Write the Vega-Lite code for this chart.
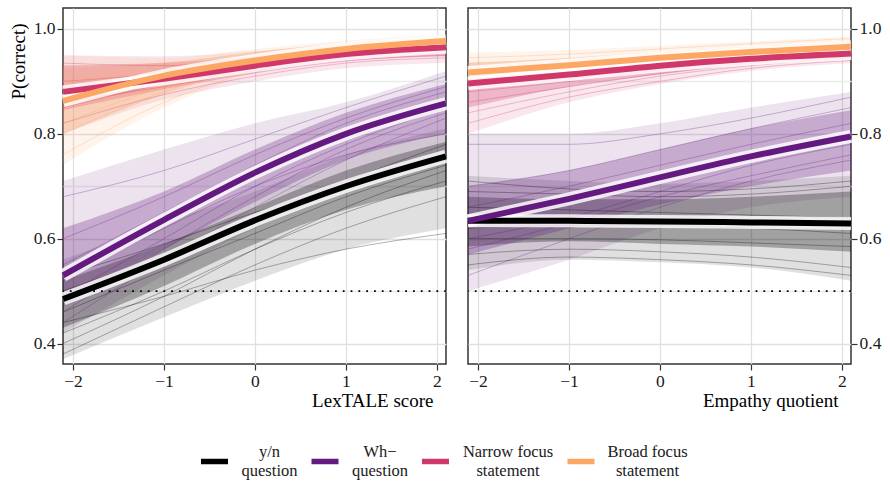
{
"$schema": "https://vega.github.io/schema/vega-lite/v6.json",
"background": "white",
"padding": {"left": 8, "top": 7, "right": 0, "bottom": 80},
"datasets": {
"bands": [
{"p":"L","c":"yn","x":-2.11,"m":0.485,"lo":0.37,"hi":0.56,"lo2":0.43,"hi2":0.52},
{"p":"L","c":"yn","x":-1,"m":0.560,"lo":0.45,"hi":0.63,"lo2":0.51,"hi2":0.59},
{"p":"L","c":"yn","x":0,"m":0.635,"lo":0.52,"hi":0.69,"lo2":0.59,"hi2":0.66},
{"p":"L","c":"yn","x":1,"m":0.700,"lo":0.58,"hi":0.76,"lo2":0.655,"hi2":0.73},
{"p":"L","c":"yn","x":2.1,"m":0.757,"lo":0.62,"hi":0.81,"lo2":0.70,"hi2":0.785},
{"p":"L","c":"wh","x":-2.11,"m":0.530,"lo":0.42,"hi":0.71,"lo2":0.47,"hi2":0.62},
{"p":"L","c":"wh","x":-1,"m":0.636,"lo":0.53,"hi":0.77,"lo2":0.58,"hi2":0.69},
{"p":"L","c":"wh","x":0,"m":0.726,"lo":0.62,"hi":0.82,"lo2":0.67,"hi2":0.77},
{"p":"L","c":"wh","x":1,"m":0.800,"lo":0.69,"hi":0.86,"lo2":0.75,"hi2":0.84},
{"p":"L","c":"wh","x":2.1,"m":0.858,"lo":0.74,"hi":0.92,"lo2":0.80,"hi2":0.895},
{"p":"L","c":"nf","x":-2.11,"m":0.880,"lo":0.80,"hi":0.95,"lo2":0.845,"hi2":0.93},
{"p":"L","c":"nf","x":-1,"m":0.905,"lo":0.865,"hi":0.948,"lo2":0.885,"hi2":0.935},
{"p":"L","c":"nf","x":0,"m":0.930,"lo":0.90,"hi":0.958,"lo2":0.915,"hi2":0.948},
{"p":"L","c":"nf","x":1,"m":0.952,"lo":0.925,"hi":0.972,"lo2":0.938,"hi2":0.964},
{"p":"L","c":"nf","x":2.1,"m":0.965,"lo":0.935,"hi":0.98,"lo2":0.948,"hi2":0.975},
{"p":"L","c":"bf","x":-2.11,"m":0.863,"lo":0.74,"hi":0.95,"lo2":0.80,"hi2":0.925},
{"p":"L","c":"bf","x":-1,"m":0.911,"lo":0.85,"hi":0.945,"lo2":0.875,"hi2":0.935},
{"p":"L","c":"bf","x":0,"m":0.940,"lo":0.915,"hi":0.962,"lo2":0.928,"hi2":0.955},
{"p":"L","c":"bf","x":1,"m":0.962,"lo":0.945,"hi":0.978,"lo2":0.953,"hi2":0.972},
{"p":"L","c":"bf","x":2.1,"m":0.977,"lo":0.96,"hi":0.99,"lo2":0.968,"hi2":0.985},
{"p":"R","c":"yn","x":-2.11,"m":0.634,"lo":0.54,"hi":0.72,"lo2":0.585,"hi2":0.68},
{"p":"R","c":"yn","x":-1,"m":0.634,"lo":0.56,"hi":0.71,"lo2":0.595,"hi2":0.675},
{"p":"R","c":"yn","x":0,"m":0.633,"lo":0.555,"hi":0.705,"lo2":0.59,"hi2":0.675},
{"p":"R","c":"yn","x":1,"m":0.631,"lo":0.545,"hi":0.71,"lo2":0.585,"hi2":0.68},
{"p":"R","c":"yn","x":2.1,"m":0.629,"lo":0.52,"hi":0.72,"lo2":0.575,"hi2":0.69},
{"p":"R","c":"wh","x":-2.11,"m":0.634,"lo":0.50,"hi":0.80,"lo2":0.57,"hi2":0.70},
{"p":"R","c":"wh","x":-1,"m":0.676,"lo":0.56,"hi":0.80,"lo2":0.62,"hi2":0.73},
{"p":"R","c":"wh","x":0,"m":0.717,"lo":0.62,"hi":0.82,"lo2":0.665,"hi2":0.77},
{"p":"R","c":"wh","x":1,"m":0.757,"lo":0.66,"hi":0.85,"lo2":0.70,"hi2":0.81},
{"p":"R","c":"wh","x":2.1,"m":0.795,"lo":0.68,"hi":0.88,"lo2":0.73,"hi2":0.845},
{"p":"R","c":"nf","x":-2.11,"m":0.896,"lo":0.80,"hi":0.935,"lo2":0.85,"hi2":0.92},
{"p":"R","c":"nf","x":-1,"m":0.913,"lo":0.86,"hi":0.94,"lo2":0.89,"hi2":0.928},
{"p":"R","c":"nf","x":0,"m":0.930,"lo":0.895,"hi":0.952,"lo2":0.913,"hi2":0.943},
{"p":"R","c":"nf","x":1,"m":0.943,"lo":0.92,"hi":0.962,"lo2":0.932,"hi2":0.955},
{"p":"R","c":"nf","x":2.1,"m":0.953,"lo":0.935,"hi":0.972,"lo2":0.942,"hi2":0.965},
{"p":"R","c":"bf","x":-2.11,"m":0.917,"lo":0.885,"hi":0.955,"lo2":0.90,"hi2":0.935},
{"p":"R","c":"bf","x":-1,"m":0.931,"lo":0.91,"hi":0.96,"lo2":0.92,"hi2":0.945},
{"p":"R","c":"bf","x":0,"m":0.945,"lo":0.93,"hi":0.968,"lo2":0.938,"hi2":0.957},
{"p":"R","c":"bf","x":1,"m":0.956,"lo":0.945,"hi":0.976,"lo2":0.95,"hi2":0.968},
{"p":"R","c":"bf","x":2.1,"m":0.966,"lo":0.95,"hi":0.985,"lo2":0.958,"hi2":0.978}
],
"lines": [
{"p":"L","c":"yn","g":1,"x":-2.11,"y":0.38},{"p":"L","c":"yn","g":1,"x":-1,"y":0.47},{"p":"L","c":"yn","g":1,"x":0,"y":0.55},{"p":"L","c":"yn","g":1,"x":1,"y":0.62},{"p":"L","c":"yn","g":1,"x":2.1,"y":0.68},
{"p":"L","c":"yn","g":2,"x":-2.11,"y":0.42},{"p":"L","c":"yn","g":2,"x":-1,"y":0.50},{"p":"L","c":"yn","g":2,"x":0,"y":0.58},{"p":"L","c":"yn","g":2,"x":1,"y":0.65},{"p":"L","c":"yn","g":2,"x":2.1,"y":0.71},
{"p":"L","c":"yn","g":3,"x":-2.11,"y":0.46},{"p":"L","c":"yn","g":3,"x":-1,"y":0.54},{"p":"L","c":"yn","g":3,"x":0,"y":0.61},{"p":"L","c":"yn","g":3,"x":1,"y":0.68},{"p":"L","c":"yn","g":3,"x":2.1,"y":0.74},
{"p":"L","c":"yn","g":4,"x":-2.11,"y":0.50},{"p":"L","c":"yn","g":4,"x":-1,"y":0.57},{"p":"L","c":"yn","g":4,"x":0,"y":0.64},{"p":"L","c":"yn","g":4,"x":1,"y":0.71},{"p":"L","c":"yn","g":4,"x":2.1,"y":0.78},
{"p":"L","c":"yn","g":5,"x":-2.11,"y":0.53},{"p":"L","c":"yn","g":5,"x":-1,"y":0.59},{"p":"L","c":"yn","g":5,"x":0,"y":0.65},{"p":"L","c":"yn","g":5,"x":1,"y":0.70},{"p":"L","c":"yn","g":5,"x":2.1,"y":0.75},
{"p":"L","c":"yn","g":6,"x":-2.11,"y":0.44},{"p":"L","c":"yn","g":6,"x":-1,"y":0.49},{"p":"L","c":"yn","g":6,"x":0,"y":0.54},{"p":"L","c":"yn","g":6,"x":1,"y":0.58},{"p":"L","c":"yn","g":6,"x":2.1,"y":0.61},
{"p":"L","c":"yn","g":7,"x":-2.11,"y":0.40},{"p":"L","c":"yn","g":7,"x":-1,"y":0.49},{"p":"L","c":"yn","g":7,"x":0,"y":0.58},{"p":"L","c":"yn","g":7,"x":1,"y":0.66},{"p":"L","c":"yn","g":7,"x":2.1,"y":0.73},
{"p":"L","c":"wh","g":1,"x":-2.11,"y":0.44},{"p":"L","c":"wh","g":1,"x":-1,"y":0.56},{"p":"L","c":"wh","g":1,"x":0,"y":0.66},{"p":"L","c":"wh","g":1,"x":1,"y":0.75},{"p":"L","c":"wh","g":1,"x":2.1,"y":0.83},
{"p":"L","c":"wh","g":2,"x":-2.11,"y":0.49},{"p":"L","c":"wh","g":2,"x":-1,"y":0.60},{"p":"L","c":"wh","g":2,"x":0,"y":0.70},{"p":"L","c":"wh","g":2,"x":1,"y":0.78},{"p":"L","c":"wh","g":2,"x":2.1,"y":0.85},
{"p":"L","c":"wh","g":3,"x":-2.11,"y":0.55},{"p":"L","c":"wh","g":3,"x":-1,"y":0.65},{"p":"L","c":"wh","g":3,"x":0,"y":0.74},{"p":"L","c":"wh","g":3,"x":1,"y":0.82},{"p":"L","c":"wh","g":3,"x":2.1,"y":0.88},
{"p":"L","c":"wh","g":4,"x":-2.11,"y":0.60},{"p":"L","c":"wh","g":4,"x":-1,"y":0.68},{"p":"L","c":"wh","g":4,"x":0,"y":0.76},{"p":"L","c":"wh","g":4,"x":1,"y":0.83},{"p":"L","c":"wh","g":4,"x":2.1,"y":0.89},
{"p":"L","c":"wh","g":5,"x":-2.11,"y":0.68},{"p":"L","c":"wh","g":5,"x":-1,"y":0.73},{"p":"L","c":"wh","g":5,"x":0,"y":0.79},{"p":"L","c":"wh","g":5,"x":1,"y":0.85},{"p":"L","c":"wh","g":5,"x":2.1,"y":0.91},
{"p":"L","c":"wh","g":6,"x":-2.11,"y":0.52},{"p":"L","c":"wh","g":6,"x":-1,"y":0.62},{"p":"L","c":"wh","g":6,"x":0,"y":0.70},{"p":"L","c":"wh","g":6,"x":1,"y":0.76},{"p":"L","c":"wh","g":6,"x":2.1,"y":0.80},
{"p":"L","c":"wh","g":7,"x":-2.11,"y":0.46},{"p":"L","c":"wh","g":7,"x":-1,"y":0.58},{"p":"L","c":"wh","g":7,"x":0,"y":0.68},{"p":"L","c":"wh","g":7,"x":1,"y":0.77},{"p":"L","c":"wh","g":7,"x":2.1,"y":0.84},
{"p":"L","c":"nf","g":1,"x":-2.11,"y":0.82},{"p":"L","c":"nf","g":1,"x":-1,"y":0.875},{"p":"L","c":"nf","g":1,"x":0,"y":0.91},{"p":"L","c":"nf","g":1,"x":1,"y":0.935},{"p":"L","c":"nf","g":1,"x":2.1,"y":0.945},
{"p":"L","c":"nf","g":2,"x":-2.11,"y":0.86},{"p":"L","c":"nf","g":2,"x":-1,"y":0.89},{"p":"L","c":"nf","g":2,"x":0,"y":0.92},{"p":"L","c":"nf","g":2,"x":1,"y":0.945},{"p":"L","c":"nf","g":2,"x":2.1,"y":0.96},
{"p":"L","c":"nf","g":3,"x":-2.11,"y":0.90},{"p":"L","c":"nf","g":3,"x":-1,"y":0.915},{"p":"L","c":"nf","g":3,"x":0,"y":0.935},{"p":"L","c":"nf","g":3,"x":1,"y":0.955},{"p":"L","c":"nf","g":3,"x":2.1,"y":0.97},
{"p":"L","c":"nf","g":4,"x":-2.11,"y":0.935},{"p":"L","c":"nf","g":4,"x":-1,"y":0.93},{"p":"L","c":"nf","g":4,"x":0,"y":0.945},{"p":"L","c":"nf","g":4,"x":1,"y":0.96},{"p":"L","c":"nf","g":4,"x":2.1,"y":0.975},
{"p":"L","c":"nf","g":5,"x":-2.11,"y":0.85},{"p":"L","c":"nf","g":5,"x":-1,"y":0.895},{"p":"L","c":"nf","g":5,"x":0,"y":0.925},{"p":"L","c":"nf","g":5,"x":1,"y":0.948},{"p":"L","c":"nf","g":5,"x":2.1,"y":0.962},
{"p":"L","c":"nf","g":6,"x":-2.11,"y":0.88},{"p":"L","c":"nf","g":6,"x":-1,"y":0.90},{"p":"L","c":"nf","g":6,"x":0,"y":0.92},{"p":"L","c":"nf","g":6,"x":1,"y":0.94},{"p":"L","c":"nf","g":6,"x":2.1,"y":0.95},
{"p":"L","c":"bf","g":1,"x":-2.11,"y":0.76},{"p":"L","c":"bf","g":1,"x":-1,"y":0.86},{"p":"L","c":"bf","g":1,"x":0,"y":0.92},{"p":"L","c":"bf","g":1,"x":1,"y":0.95},{"p":"L","c":"bf","g":1,"x":2.1,"y":0.965},
{"p":"L","c":"bf","g":2,"x":-2.11,"y":0.80},{"p":"L","c":"bf","g":2,"x":-1,"y":0.88},{"p":"L","c":"bf","g":2,"x":0,"y":0.93},{"p":"L","c":"bf","g":2,"x":1,"y":0.955},{"p":"L","c":"bf","g":2,"x":2.1,"y":0.972},
{"p":"L","c":"bf","g":3,"x":-2.11,"y":0.85},{"p":"L","c":"bf","g":3,"x":-1,"y":0.90},{"p":"L","c":"bf","g":3,"x":0,"y":0.94},{"p":"L","c":"bf","g":3,"x":1,"y":0.963},{"p":"L","c":"bf","g":3,"x":2.1,"y":0.978},
{"p":"L","c":"bf","g":4,"x":-2.11,"y":0.90},{"p":"L","c":"bf","g":4,"x":-1,"y":0.92},{"p":"L","c":"bf","g":4,"x":0,"y":0.948},{"p":"L","c":"bf","g":4,"x":1,"y":0.968},{"p":"L","c":"bf","g":4,"x":2.1,"y":0.983},
{"p":"L","c":"bf","g":5,"x":-2.11,"y":0.93},{"p":"L","c":"bf","g":5,"x":-1,"y":0.935},{"p":"L","c":"bf","g":5,"x":0,"y":0.955},{"p":"L","c":"bf","g":5,"x":1,"y":0.973},{"p":"L","c":"bf","g":5,"x":2.1,"y":0.988},
{"p":"L","c":"bf","g":6,"x":-2.11,"y":0.82},{"p":"L","c":"bf","g":6,"x":-1,"y":0.89},{"p":"L","c":"bf","g":6,"x":0,"y":0.935},{"p":"L","c":"bf","g":6,"x":1,"y":0.96},{"p":"L","c":"bf","g":6,"x":2.1,"y":0.975},
{"p":"R","c":"yn","g":1,"x":-2.11,"y":0.57},{"p":"R","c":"yn","g":1,"x":-1,"y":0.58},{"p":"R","c":"yn","g":1,"x":0,"y":0.575},{"p":"R","c":"yn","g":1,"x":1,"y":0.565},{"p":"R","c":"yn","g":1,"x":2.1,"y":0.545},
{"p":"R","c":"yn","g":2,"x":-2.11,"y":0.60},{"p":"R","c":"yn","g":2,"x":-1,"y":0.60},{"p":"R","c":"yn","g":2,"x":0,"y":0.598},{"p":"R","c":"yn","g":2,"x":1,"y":0.592},{"p":"R","c":"yn","g":2,"x":2.1,"y":0.585},
{"p":"R","c":"yn","g":3,"x":-2.11,"y":0.66},{"p":"R","c":"yn","g":3,"x":-1,"y":0.655},{"p":"R","c":"yn","g":3,"x":0,"y":0.65},{"p":"R","c":"yn","g":3,"x":1,"y":0.645},{"p":"R","c":"yn","g":3,"x":2.1,"y":0.64},
{"p":"R","c":"yn","g":4,"x":-2.11,"y":0.69},{"p":"R","c":"yn","g":4,"x":-1,"y":0.685},{"p":"R","c":"yn","g":4,"x":0,"y":0.68},{"p":"R","c":"yn","g":4,"x":1,"y":0.685},{"p":"R","c":"yn","g":4,"x":2.1,"y":0.70},
{"p":"R","c":"yn","g":5,"x":-2.11,"y":0.62},{"p":"R","c":"yn","g":5,"x":-1,"y":0.625},{"p":"R","c":"yn","g":5,"x":0,"y":0.625},{"p":"R","c":"yn","g":5,"x":1,"y":0.62},{"p":"R","c":"yn","g":5,"x":2.1,"y":0.61},
{"p":"R","c":"yn","g":6,"x":-2.11,"y":0.55},{"p":"R","c":"yn","g":6,"x":-1,"y":0.565},{"p":"R","c":"yn","g":6,"x":0,"y":0.56},{"p":"R","c":"yn","g":6,"x":1,"y":0.55},{"p":"R","c":"yn","g":6,"x":2.1,"y":0.53},
{"p":"R","c":"yn","g":7,"x":-2.11,"y":0.71},{"p":"R","c":"yn","g":7,"x":-1,"y":0.695},{"p":"R","c":"yn","g":7,"x":0,"y":0.69},{"p":"R","c":"yn","g":7,"x":1,"y":0.695},{"p":"R","c":"yn","g":7,"x":2.1,"y":0.71},
{"p":"R","c":"wh","g":1,"x":-2.11,"y":0.53},{"p":"R","c":"wh","g":1,"x":-1,"y":0.60},{"p":"R","c":"wh","g":1,"x":0,"y":0.66},{"p":"R","c":"wh","g":1,"x":1,"y":0.71},{"p":"R","c":"wh","g":1,"x":2.1,"y":0.75},
{"p":"R","c":"wh","g":2,"x":-2.11,"y":0.58},{"p":"R","c":"wh","g":2,"x":-1,"y":0.63},{"p":"R","c":"wh","g":2,"x":0,"y":0.68},{"p":"R","c":"wh","g":2,"x":1,"y":0.72},{"p":"R","c":"wh","g":2,"x":2.1,"y":0.76},
{"p":"R","c":"wh","g":3,"x":-2.11,"y":0.62},{"p":"R","c":"wh","g":3,"x":-1,"y":0.67},{"p":"R","c":"wh","g":3,"x":0,"y":0.71},{"p":"R","c":"wh","g":3,"x":1,"y":0.75},{"p":"R","c":"wh","g":3,"x":2.1,"y":0.79},
{"p":"R","c":"wh","g":4,"x":-2.11,"y":0.66},{"p":"R","c":"wh","g":4,"x":-1,"y":0.70},{"p":"R","c":"wh","g":4,"x":0,"y":0.74},{"p":"R","c":"wh","g":4,"x":1,"y":0.78},{"p":"R","c":"wh","g":4,"x":2.1,"y":0.82},
{"p":"R","c":"wh","g":5,"x":-2.11,"y":0.70},{"p":"R","c":"wh","g":5,"x":-1,"y":0.73},{"p":"R","c":"wh","g":5,"x":0,"y":0.77},{"p":"R","c":"wh","g":5,"x":1,"y":0.81},{"p":"R","c":"wh","g":5,"x":2.1,"y":0.85},
{"p":"R","c":"wh","g":6,"x":-2.11,"y":0.78},{"p":"R","c":"wh","g":6,"x":-1,"y":0.78},{"p":"R","c":"wh","g":6,"x":0,"y":0.80},{"p":"R","c":"wh","g":6,"x":1,"y":0.83},{"p":"R","c":"wh","g":6,"x":2.1,"y":0.87},
{"p":"R","c":"wh","g":7,"x":-2.11,"y":0.60},{"p":"R","c":"wh","g":7,"x":-1,"y":0.64},{"p":"R","c":"wh","g":7,"x":0,"y":0.69},{"p":"R","c":"wh","g":7,"x":1,"y":0.74},{"p":"R","c":"wh","g":7,"x":2.1,"y":0.78},
{"p":"R","c":"nf","g":1,"x":-2.11,"y":0.82},{"p":"R","c":"nf","g":1,"x":-1,"y":0.87},{"p":"R","c":"nf","g":1,"x":0,"y":0.90},{"p":"R","c":"nf","g":1,"x":1,"y":0.925},{"p":"R","c":"nf","g":1,"x":2.1,"y":0.94},
{"p":"R","c":"nf","g":2,"x":-2.11,"y":0.86},{"p":"R","c":"nf","g":2,"x":-1,"y":0.89},{"p":"R","c":"nf","g":2,"x":0,"y":0.915},{"p":"R","c":"nf","g":2,"x":1,"y":0.935},{"p":"R","c":"nf","g":2,"x":2.1,"y":0.948},
{"p":"R","c":"nf","g":3,"x":-2.11,"y":0.89},{"p":"R","c":"nf","g":3,"x":-1,"y":0.91},{"p":"R","c":"nf","g":3,"x":0,"y":0.928},{"p":"R","c":"nf","g":3,"x":1,"y":0.945},{"p":"R","c":"nf","g":3,"x":2.1,"y":0.958},
{"p":"R","c":"nf","g":4,"x":-2.11,"y":0.92},{"p":"R","c":"nf","g":4,"x":-1,"y":0.93},{"p":"R","c":"nf","g":4,"x":0,"y":0.945},{"p":"R","c":"nf","g":4,"x":1,"y":0.955},{"p":"R","c":"nf","g":4,"x":2.1,"y":0.968},
{"p":"R","c":"nf","g":5,"x":-2.11,"y":0.88},{"p":"R","c":"nf","g":5,"x":-1,"y":0.90},{"p":"R","c":"nf","g":5,"x":0,"y":0.922},{"p":"R","c":"nf","g":5,"x":1,"y":0.94},{"p":"R","c":"nf","g":5,"x":2.1,"y":0.952},
{"p":"R","c":"nf","g":6,"x":-2.11,"y":0.84},{"p":"R","c":"nf","g":6,"x":-1,"y":0.88},{"p":"R","c":"nf","g":6,"x":0,"y":0.91},{"p":"R","c":"nf","g":6,"x":1,"y":0.93},{"p":"R","c":"nf","g":6,"x":2.1,"y":0.945},
{"p":"R","c":"bf","g":1,"x":-2.11,"y":0.895},{"p":"R","c":"bf","g":1,"x":-1,"y":0.915},{"p":"R","c":"bf","g":1,"x":0,"y":0.935},{"p":"R","c":"bf","g":1,"x":1,"y":0.948},{"p":"R","c":"bf","g":1,"x":2.1,"y":0.955},
{"p":"R","c":"bf","g":2,"x":-2.11,"y":0.91},{"p":"R","c":"bf","g":2,"x":-1,"y":0.925},{"p":"R","c":"bf","g":2,"x":0,"y":0.94},{"p":"R","c":"bf","g":2,"x":1,"y":0.952},{"p":"R","c":"bf","g":2,"x":2.1,"y":0.962},
{"p":"R","c":"bf","g":3,"x":-2.11,"y":0.92},{"p":"R","c":"bf","g":3,"x":-1,"y":0.933},{"p":"R","c":"bf","g":3,"x":0,"y":0.947},{"p":"R","c":"bf","g":3,"x":1,"y":0.958},{"p":"R","c":"bf","g":3,"x":2.1,"y":0.968},
{"p":"R","c":"bf","g":4,"x":-2.11,"y":0.935},{"p":"R","c":"bf","g":4,"x":-1,"y":0.943},{"p":"R","c":"bf","g":4,"x":0,"y":0.955},{"p":"R","c":"bf","g":4,"x":1,"y":0.966},{"p":"R","c":"bf","g":4,"x":2.1,"y":0.975},
{"p":"R","c":"bf","g":5,"x":-2.11,"y":0.945},{"p":"R","c":"bf","g":5,"x":-1,"y":0.952},{"p":"R","c":"bf","g":5,"x":0,"y":0.962},{"p":"R","c":"bf","g":5,"x":1,"y":0.972},{"p":"R","c":"bf","g":5,"x":2.1,"y":0.982},
{"p":"R","c":"bf","g":6,"x":-2.11,"y":0.905},{"p":"R","c":"bf","g":6,"x":-1,"y":0.922},{"p":"R","c":"bf","g":6,"x":0,"y":0.94},{"p":"R","c":"bf","g":6,"x":1,"y":0.953},{"p":"R","c":"bf","g":6,"x":2.1,"y":0.965}
]
},
"hconcat": [
{
"width": 383, "height": 356,
"layer": [
{"data": {"name": "bands"}, "transform": [{"filter": {"field": "p", "equal": "L"}}],
 "mark": {"type": "area", "interpolate": "monotone", "opacity": 0.12},
 "encoding": {
  "x": {"field": "x", "type": "quantitative", "scale": {"domain": [-2.11, 2.1], "nice": false, "zero": false},
   "axis": {"title": "LexTALE score", "titleX": 370, "titleAlign": "right", "titleAnchor": null, "titlePadding": 2,
    "values": [-2, -1.5, -1, -0.5, 0, 0.5, 1, 1.5, 2], "format": "d",
    "labelExpr": "datum.value % 1 == 0 ? datum.label : ''",
    "tickOpacity": {"condition": {"test": "datum.value % 1 != 0", "value": 0}, "value": 1},
    "gridColor": {"condition": {"test": "datum.value % 1 != 0", "value": "#ebebeb"}, "value": "#e0e0e0"}}},
  "y": {"field": "lo", "type": "quantitative", "scale": {"domain": [0.361, 1.04], "nice": false, "zero": false},
   "axis": {"title": "P(correct)", "orient": "left", "titleY": 15, "titleAlign": "right", "titleAnchor": null, "titlePadding": 5,
    "values": [0.4, 0.5, 0.6, 0.7, 0.8, 0.9, 1.0], "format": ".1f",
    "labelExpr": "round(datum.value * 10) % 2 == 0 ? datum.label : ''",
    "tickOpacity": {"condition": {"test": "round(datum.value * 10) % 2 == 1", "value": 0}, "value": 1},
    "gridColor": {"condition": {"test": "round(datum.value * 10) % 2 == 1", "value": "#ebebeb"}, "value": "#e0e0e0"}}},
  "y2": {"field": "hi"},
  "color": {"field": "c", "type": "nominal", "scale": {"domain": ["yn", "wh", "nf", "bf"], "range": ["#000000", "#63197F", "#D1386A", "#FDA765"]}}
 }},
{"data": {"name": "bands"}, "transform": [{"filter": {"field": "p", "equal": "L"}}],
 "mark": {"type": "area", "interpolate": "monotone", "opacity": 0.28},
 "encoding": {
  "x": {"field": "x", "type": "quantitative", "scale": {"domain": [-2.11, 2.1], "nice": false, "zero": false}},
  "y": {"field": "lo2", "type": "quantitative", "scale": {"domain": [0.361, 1.04], "nice": false, "zero": false}},
  "y2": {"field": "hi2"},
  "color": {"field": "c", "type": "nominal"}
 }},
{"data": {"name": "lines"}, "transform": [{"filter": {"field": "p", "equal": "L"}}],
 "mark": {"type": "line", "interpolate": "monotone", "opacity": 0.3, "strokeWidth": 1},
 "encoding": {
  "x": {"field": "x", "type": "quantitative", "scale": {"domain": [-2.11, 2.1], "nice": false, "zero": false}},
  "y": {"field": "y", "type": "quantitative", "scale": {"domain": [0.361, 1.04], "nice": false, "zero": false}},
  "detail": {"field": "g", "type": "nominal"},
  "color": {"field": "c", "type": "nominal",
   "legend": {"orient": "none", "legendX": 135, "legendY": 437, "direction": "horizontal", "title": null,
    "symbolType": "stroke", "symbolSize": 729, "symbolStrokeWidth": 5.5, "symbolOpacity": 1,
    "labelFont": "Liberation Serif", "labelFontSize": 16.5, "labelColor": "#1a1a1a", "labelOffset": 10, "labelLimit": 0,
    "labelAlign": "center", "columnPadding": 2.5,
    "labelExpr": "datum.value == 'yn' ? ['y/n', 'question'] : datum.value == 'wh' ? ['Wh\u2212', 'question'] : datum.value == 'nf' ? ['Narrow focus', 'statement'] : ['Broad focus', 'statement']",
    "encode": {
     "labels": {"update": {"dx": {"signal": "datum.value == 'nf' ? 46 : datum.value == 'bf' ? 40 : 28.5"}, "dy": {"value": -9.5}}}}}}
 }},
{"data": {"name": "bands"}, "transform": [{"filter": {"field": "p", "equal": "L"}}],
 "mark": {"type": "line", "interpolate": "monotone", "color": "white", "opacity": 0.82, "strokeWidth": 13},
 "encoding": {
  "x": {"field": "x", "type": "quantitative", "scale": {"domain": [-2.11, 2.1], "nice": false, "zero": false}},
  "y": {"field": "m", "type": "quantitative", "scale": {"domain": [0.361, 1.04], "nice": false, "zero": false}},
  "detail": {"field": "c", "type": "nominal"}
 }},
{"data": {"name": "bands"}, "transform": [{"filter": {"field": "p", "equal": "L"}}],
 "mark": {"type": "line", "interpolate": "monotone", "strokeWidth": 6},
 "encoding": {
  "x": {"field": "x", "type": "quantitative", "scale": {"domain": [-2.11, 2.1], "nice": false, "zero": false}},
  "y": {"field": "m", "type": "quantitative", "scale": {"domain": [0.361, 1.04], "nice": false, "zero": false}},
  "color": {"field": "c", "type": "nominal"}
 }},
{"data": {"values": [{"ref": 0.5}]},
 "mark": {"type": "rule", "color": "black", "strokeWidth": 1.8, "strokeDash": [1.8, 6]},
 "encoding": {"y": {"field": "ref", "type": "quantitative", "scale": {"domain": [0.361, 1.04], "nice": false, "zero": false}}}}
]
},
{
"width": 383, "height": 356,
"layer": [
{"data": {"name": "bands"}, "transform": [{"filter": {"field": "p", "equal": "R"}}],
 "mark": {"type": "area", "interpolate": "monotone", "opacity": 0.12},
 "encoding": {
  "x": {"field": "x", "type": "quantitative", "scale": {"domain": [-2.11, 2.1], "nice": false, "zero": false},
   "axis": {"title": "Empathy quotient", "titleX": 370, "titleAlign": "right", "titleAnchor": null, "titlePadding": 2,
    "values": [-2, -1.5, -1, -0.5, 0, 0.5, 1, 1.5, 2], "format": "d",
    "labelExpr": "datum.value % 1 == 0 ? datum.label : ''",
    "tickOpacity": {"condition": {"test": "datum.value % 1 != 0", "value": 0}, "value": 1},
    "gridColor": {"condition": {"test": "datum.value % 1 != 0", "value": "#ebebeb"}, "value": "#e0e0e0"}}},
  "y": {"field": "lo", "type": "quantitative", "scale": {"domain": [0.361, 1.04], "nice": false, "zero": false},
   "axis": {"title": null, "orient": "right",
    "values": [0.4, 0.5, 0.6, 0.7, 0.8, 0.9, 1.0], "format": ".1f",
    "labelExpr": "round(datum.value * 10) % 2 == 0 ? datum.label : ''",
    "tickOpacity": {"condition": {"test": "round(datum.value * 10) % 2 == 1", "value": 0}, "value": 1},
    "gridColor": {"condition": {"test": "round(datum.value * 10) % 2 == 1", "value": "#ebebeb"}, "value": "#e0e0e0"}}},
  "y2": {"field": "hi"},
  "color": {"field": "c", "type": "nominal"}
 }},
{"data": {"name": "bands"}, "transform": [{"filter": {"field": "p", "equal": "R"}}],
 "mark": {"type": "area", "interpolate": "monotone", "opacity": 0.28},
 "encoding": {
  "x": {"field": "x", "type": "quantitative", "scale": {"domain": [-2.11, 2.1], "nice": false, "zero": false}},
  "y": {"field": "lo2", "type": "quantitative", "scale": {"domain": [0.361, 1.04], "nice": false, "zero": false}},
  "y2": {"field": "hi2"},
  "color": {"field": "c", "type": "nominal"}
 }},
{"data": {"name": "lines"}, "transform": [{"filter": {"field": "p", "equal": "R"}}],
 "mark": {"type": "line", "interpolate": "monotone", "opacity": 0.3, "strokeWidth": 1},
 "encoding": {
  "x": {"field": "x", "type": "quantitative", "scale": {"domain": [-2.11, 2.1], "nice": false, "zero": false}},
  "y": {"field": "y", "type": "quantitative", "scale": {"domain": [0.361, 1.04], "nice": false, "zero": false}},
  "detail": {"field": "g", "type": "nominal"},
  "color": {"field": "c", "type": "nominal"}
 }},
{"data": {"name": "bands"}, "transform": [{"filter": {"field": "p", "equal": "R"}}],
 "mark": {"type": "line", "interpolate": "monotone", "color": "white", "opacity": 0.82, "strokeWidth": 13},
 "encoding": {
  "x": {"field": "x", "type": "quantitative", "scale": {"domain": [-2.11, 2.1], "nice": false, "zero": false}},
  "y": {"field": "m", "type": "quantitative", "scale": {"domain": [0.361, 1.04], "nice": false, "zero": false}},
  "detail": {"field": "c", "type": "nominal"}
 }},
{"data": {"name": "bands"}, "transform": [{"filter": {"field": "p", "equal": "R"}}],
 "mark": {"type": "line", "interpolate": "monotone", "strokeWidth": 6},
 "encoding": {
  "x": {"field": "x", "type": "quantitative", "scale": {"domain": [-2.11, 2.1], "nice": false, "zero": false}},
  "y": {"field": "m", "type": "quantitative", "scale": {"domain": [0.361, 1.04], "nice": false, "zero": false}},
  "color": {"field": "c", "type": "nominal"}
 }},
{"data": {"values": [{"ref": 0.5}]},
 "mark": {"type": "rule", "color": "black", "strokeWidth": 1.8, "strokeDash": [1.8, 6]},
 "encoding": {"y": {"field": "ref", "type": "quantitative", "scale": {"domain": [0.361, 1.04], "nice": false, "zero": false}}}}
]
}
],
"spacing": 22,
"bounds": "flush",
"config": {
 "font": "Liberation Serif",
 "view": {"stroke": "#333333", "strokeWidth": 1.5},
 "axis": {"domain": false, "grid": true, "gridWidth": 1.3,
  "labelFont": "Liberation Serif", "labelFontSize": 17.5, "labelColor": "#1a1a1a", "labelPadding": 2,
  "titleFont": "Liberation Serif", "titleFontSize": 19, "titleFontWeight": "normal", "titleColor": "#000000",
  "tickColor": "#333333", "tickSize": 6, "tickWidth": 1.2}
}
}
